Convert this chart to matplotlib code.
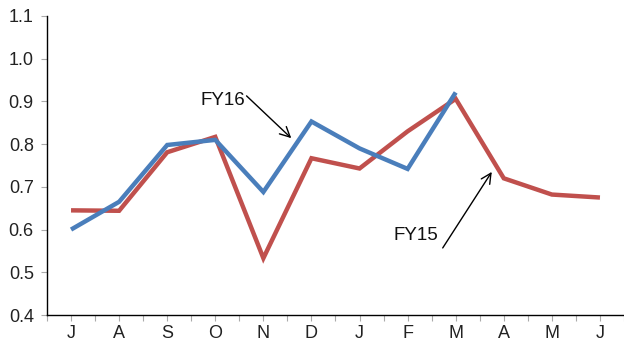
import matplotlib
matplotlib.use("Agg")
import matplotlib.pyplot as plt
import numpy as np

plt.rcParams['font.family'] = ['Liberation Sans', 'DejaVu Sans']

months = ["J", "A", "S", "O", "N", "D", "J", "F", "M", "A", "M", "J"]
fy15 = [0.645, 0.644, 0.781, 0.817, 0.533, 0.767, 0.743, 0.830, 0.906, 0.720, 0.682, 0.675]
fy16 = [0.600, 0.665, 0.798, 0.810, 0.688, 0.853, 0.790, 0.742, 0.921]
y_ticks = [0.4, 0.5, 0.6, 0.7, 0.8, 0.9, 1.0, 1.1]

red = "#C0504D"
blue = "#4A7EBB"

fig = plt.figure(figsize=(6.24, 3.43), dpi=100)
ax = fig.add_axes([0.0753, 0.0816, 0.9247, 0.8718])

x15 = np.arange(len(fy15))
x16 = np.arange(len(fy16))
ax.plot(x15, fy15, color=red, lw=3.2, solid_joinstyle="miter", solid_capstyle="butt")
ax.plot(x16, fy16, color=blue, lw=3.2, solid_joinstyle="miter", solid_capstyle="butt")

ax.set_xlim(-0.5, len(months) - 0.5)
ax.set_ylim(0.4, 1.1)

ax.set_yticks(y_ticks)
ax.set_yticklabels([f"{v:.1f}" for v in y_ticks])
ax.set_xticks(np.arange(len(months)))
ax.set_xticklabels(months)
ax.set_xticks(np.arange(len(months) + 1) - 0.5, minor=True)

for s in ("top", "right"):
    ax.spines[s].set_visible(False)
for s in ("left", "bottom"):
    ax.spines[s].set_color("black")
    ax.spines[s].set_linewidth(1.0)

ax.tick_params(axis="both", which="both", direction="out", length=4.5,
               width=0.8, color="#aaaaaa", labelsize=13, labelcolor="#222222")
ax.tick_params(axis="y", pad=5)
ax.tick_params(axis="x", pad=3)

arrow = dict(arrowstyle="->", color="black", lw=1.0, mutation_scale=18,
             shrinkA=0, shrinkB=0)
ax.annotate("", xy=(4.58, 0.814), xytext=(3.65, 0.913), arrowprops=arrow)
ax.text(3.63, 0.901, "FY16", ha="right", va="center", fontsize=13.5, color="#111111")
ax.annotate("", xy=(8.75, 0.735), xytext=(7.73, 0.557), arrowprops=arrow)
ax.text(7.63, 0.585, "FY15", ha="right", va="center", fontsize=13.5, color="#111111")

fig.savefig("out.png", dpi=100)
